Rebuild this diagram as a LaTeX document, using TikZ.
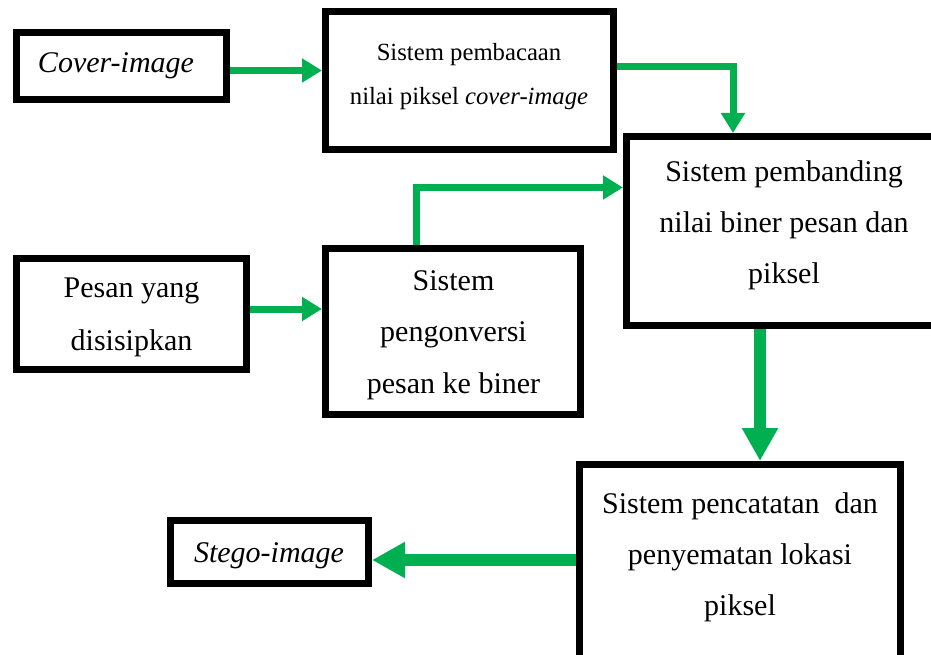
\documentclass[tikz,border=0pt]{standalone}
\usepackage{fontspec}
\setmainfont{Liberation Serif}
\usetikzlibrary{arrows.meta}
\definecolor{flowgreen}{HTML}{00B050}
\begin{document}
\begin{tikzpicture}[x=1pt,y=-1pt,
  box/.style={draw=black,line width=7pt,inner sep=0pt,minimum width=#1},
  txt/.style={anchor=base,align=center,inner sep=0pt,font=\fontsize{30}{51}\selectfont},
  smalltxt/.style={anchor=base,align=center,inner sep=0pt,font=\fontsize{24.7}{44}\selectfont},
  flow/.style={draw=flowgreen,line width=7pt,line join=miter,
    -{Triangle[length=20pt,width=23pt]}},
  bigflow/.style={draw=flowgreen,line width=12pt,
    -{Triangle[length=33pt,width=34pt]}}]
\useasboundingbox (0,0) rectangle (931,655);
\clip (0,0) rectangle (931,655);

% process boxes (sizes are outer size minus the 7pt border)
\node[box=210pt,minimum height=67pt]  (cover)   at (121.5,66)  {};
\node[box=288pt,minimum height=138pt] (baca)    at (469.5,80.5) {};
\node[box=330pt,minimum height=189pt] (banding) at (791.5,231) {};
\node[box=230pt,minimum height=111pt] (pesan)   at (131.5,314) {};
\node[box=255pt,minimum height=166pt] (konversi) at (453,331.5) {};
\node[box=321pt,minimum height=232pt] (catat)   at (740,580.5) {};
\node[box=198pt,minimum height=63pt]  (stego)   at (269.5,552) {};

% box texts (anchored at the baseline of the last line)
\node[txt] (tcover) at (116,73) {\itshape Cover-image};
\node[smalltxt] (tbaca) at (469,105) {Sistem pembacaan\\nilai piksel \textit{cover-image}};
\node[txt] (tbanding) at (784,283) {Sistem pembanding\\nilai biner pesan dan\\piksel};
\node[txt,font=\fontsize{30}{53}\selectfont] (tpesan) at (131.5,350) {Pesan yang\\disisipkan};
\node[txt,font=\fontsize{30}{51.5}\selectfont] (tkonversi) at (453.5,393) {Sistem\\pengonversi\\pesan ke biner};
\node[txt] (tcatat) at (740,615) {Sistem pencatatan~ dan\\penyematan lokasi\\piksel};
\node[txt] (tstego) at (269,562) {\itshape Stego-image};

% connector levels
\coordinate (y1) at (0,70.5);
\coordinate (y2) at (0,67);
\coordinate (x2) at (733,0);
\coordinate (x3) at (416,0);
\coordinate (y3) at (0,187.5);
\coordinate (y4) at (0,309);
\coordinate (x5) at (760,0);
\coordinate (y6) at (0,560);

% connectors
\draw[flow] (cover.east |- y1) -- (baca.west |- y1);
\draw[flow] (baca.east |- y2) -- (x2 |- y2) -- (x2 |- banding.north);
\draw[flow] (konversi.north -| x3) -- (x3 |- y3) -- (banding.west |- y3);
\draw[flow] (pesan.east |- y4) -- (konversi.west |- y4);
\draw[bigflow] (banding.south -| x5) -- (catat.north -| x5);
\draw[bigflow] (catat.west |- y6) -- (stego.east |- y6);
\end{tikzpicture}
\end{document}
